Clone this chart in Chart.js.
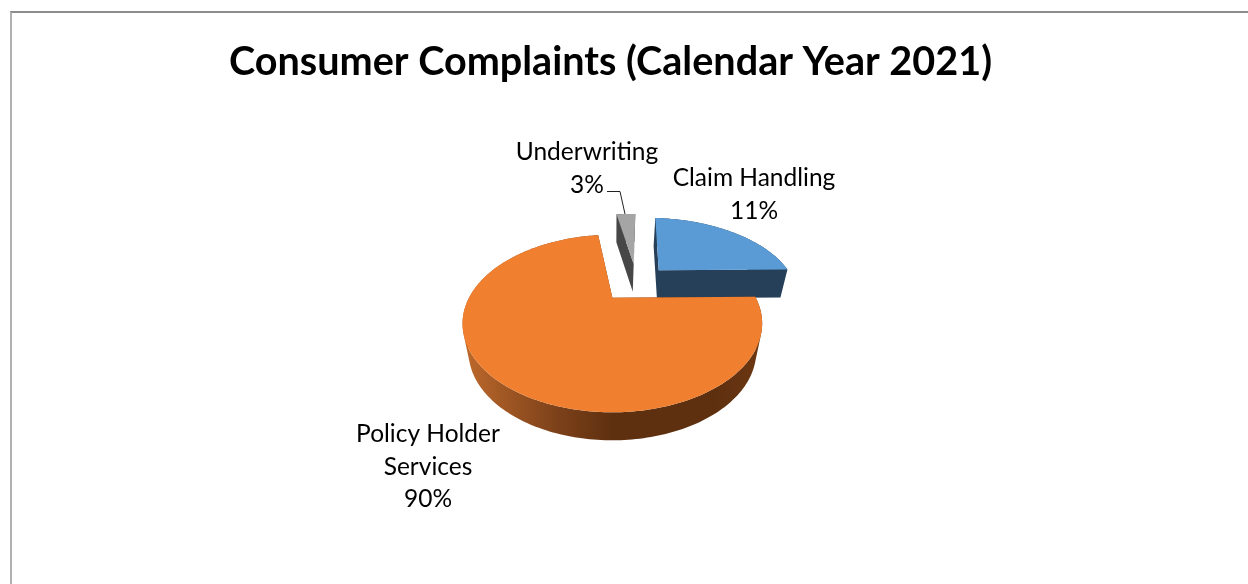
<!DOCTYPE html>
<html>
<head>
<meta charset="utf-8">
<style>
html,body{margin:0;padding:0;background:#fff;overflow:hidden}
#wrap{position:relative;width:1248px;height:584px;background:#fff}
#frame{position:absolute;left:10px;top:11px;right:-4px;bottom:-4px;border-top:2px solid #8c8c8c;border-left:2px solid #b0b0b0}
canvas{position:absolute;left:0;top:0}
</style>
<script src="https://cdn.jsdelivr.net/npm/chart.js@4"></script>
</head>
<body>
<div id="wrap"><div id="frame"></div><canvas id="c" width="1248" height="584"></canvas></div>
<script>
const chartTitle = "Consumer Complaints (Calendar Year 2021)";
const categories = ["Claim Handling", "Policy Holder Services", "Underwriting"];
const percentLabels = ["11%", "90%", "3%"];
// Slice sizes as drawn in the picture (the printed percentages differ from the drawn angles)
const sliceShares = [23.9, 73.1, 3.0];
const topColors = ["#5b9bd5", "#f08030", "#a5a5a5"];
const wallColors = ["#264059", "#5f300f", "#474747"];

const FONT = 'Lato, Carlito, sans-serif';
const view = {cx:613, cy:298, A:143.5, B:81.4, k:0.292, ox:0.173, oy:0.208, explode:[0.25,0.27,0.27], depth:28, shrink:0.96};
const labelBoxes = [
  {lines:["Claim Handling"], x:754, y:178},
  {lines:["Policy Holder","Services"], x:428, y:434},
  {lines:["Underwriting"], x:587, y:152}
];

function project(u, v){
  const w = 1 + view.k * v;
  return [view.cx + view.A * u / w, view.cy - view.B * v / w];
}
function lower(p){
  return [view.cx + (p[0] - view.cx) * view.shrink, p[1] + view.depth];
}
function slicePath(arc, i){
  const mid = (arc.startAngle + arc.endAngle) / 2;
  const bx = view.ox + Math.cos(mid) * view.explode[i];
  const by = view.oy - Math.sin(mid) * view.explode[i];
  const pts = [project(bx, by)];
  const n = Math.max(4, Math.ceil((arc.endAngle - arc.startAngle) / 0.02));
  for (let i = 0; i <= n; i++){
    const a = arc.startAngle + (arc.endAngle - arc.startAngle) * i / n;
    pts.push(project(bx + Math.cos(a), by - Math.sin(a)));
  }
  return pts;
}
function fillPoly(ctx, pts){
  ctx.beginPath();
  pts.forEach((p, i) => i ? ctx.lineTo(p[0], p[1]) : ctx.moveTo(p[0], p[1]));
  ctx.closePath();
  ctx.fill();
}
function addQuad(ctx, q){
  let area = 0;
  q.forEach((p, i) => { const r = q[(i + 1) % 4]; area += p[0] * r[1] - r[0] * p[1]; });
  const o = area < 0 ? q.slice().reverse() : q;
  o.forEach((p, i) => i ? ctx.lineTo(p[0], p[1]) : ctx.moveTo(p[0], p[1]));
  ctx.closePath();
}
const pie3d = {
  id: 'pie3d',
  beforeDatasetDraw(chart, args){
    const ctx = chart.ctx;
    const arcs = args.meta.data;
    const ds = chart.data.datasets[args.index];
    [2, 0, 1].forEach(i => {
      const pts = slicePath(arcs[i], i);
      let wall = ds.wallColor[i];
      if (i === 1){
        const g = ctx.createLinearGradient(462, 0, 762, 0);
        g.addColorStop(0, '#c06a2c');
        g.addColorStop(0.12, '#a55a25');
        g.addColorStop(0.32, '#7c411a');
        g.addColorStop(0.5, '#5f300f');
        g.addColorStop(0.85, '#5f300f');
        g.addColorStop(1, '#6d3712');
        wall = g;
      }
      ctx.save();
      ctx.fillStyle = wall;
      ctx.beginPath();
      for (let j = 0; j < pts.length; j++){
        const p = pts[j], q = pts[(j + 1) % pts.length];
        addQuad(ctx, [p, q, lower(q), lower(p)]);
      }
      ctx.fill('nonzero');
      ctx.fillStyle = ds.backgroundColor[i];
      fillPoly(ctx, pts);
      ctx.restore();
    });
    return false;
  },
  afterDraw(chart){
    const ctx = chart.ctx;
    ctx.save();
    ctx.fillStyle = '#000';
    ctx.font = '24.5px ' + FONT;
    ctx.textAlign = 'center';
    ctx.textBaseline = 'middle';
    labelBoxes.forEach((b, i) => {
      const lines = b.lines.concat(percentLabels[i]);
      lines.forEach((t, j) => ctx.fillText(t, b.x, b.y + j * 32.6));
    });
    ctx.strokeStyle = '#222'; ctx.lineWidth = 1;
    ctx.beginPath(); ctx.moveTo(607, 191.5); ctx.lineTo(620, 191.5); ctx.lineTo(625, 214); ctx.stroke();
    ctx.restore();
  }
};
new Chart(document.getElementById('c'), {
  type: 'pie',
  plugins: [pie3d],
  data: {
    labels: categories,
    datasets: [{data: sliceShares, backgroundColor: topColors, wallColor: wallColors, borderWidth: 0}]
  },
  options: {
    responsive: false,
    animation: false,
    rotation: 3.4,
    layout: {padding: {right: 27}},
    plugins: {
      legend: {display: false},
      tooltip: {enabled: false},
      title: {
        display: true, text: chartTitle, color: '#000', fullSize: false,
        font: {family: FONT, size: 39.6, weight: 'bold'},
        padding: {top: 38, bottom: 10}
      }
    }
  }
});
</script>
</body>
</html>
